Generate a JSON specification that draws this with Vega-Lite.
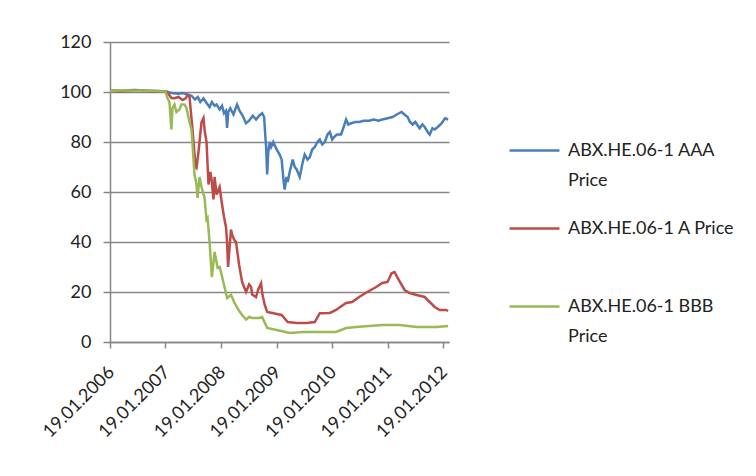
{
  "$schema": "https://vega.github.io/schema/vega-lite/v6.json",
  "width": 339,
  "height": 300,
  "autosize": {"type": "none"},
  "padding": {"left": 110, "top": 42, "right": 307, "bottom": 134},
  "background": "white",
  "config": {"font": "Lato", "view": {"stroke": null}},
  "data": {"values": [
    {"date": "2006-01-19", "series": "ABX.HE.06-1 AAA Price", "price": 100.5},
    {"date": "2006-04-01", "series": "ABX.HE.06-1 AAA Price", "price": 100.6},
    {"date": "2006-07-01", "series": "ABX.HE.06-1 AAA Price", "price": 100.8},
    {"date": "2006-10-01", "series": "ABX.HE.06-1 AAA Price", "price": 100.5},
    {"date": "2007-01-19", "series": "ABX.HE.06-1 AAA Price", "price": 100.3},
    {"date": "2007-02-14", "series": "ABX.HE.06-1 AAA Price", "price": 99.8},
    {"date": "2007-03-10", "series": "ABX.HE.06-1 AAA Price", "price": 99.5},
    {"date": "2007-04-15", "series": "ABX.HE.06-1 AAA Price", "price": 99.3},
    {"date": "2007-05-11", "series": "ABX.HE.06-1 AAA Price", "price": 99.6},
    {"date": "2007-06-13", "series": "ABX.HE.06-1 AAA Price", "price": 99.0},
    {"date": "2007-07-09", "series": "ABX.HE.06-1 AAA Price", "price": 98.5},
    {"date": "2007-08-01", "series": "ABX.HE.06-1 AAA Price", "price": 97.0},
    {"date": "2007-08-20", "series": "ABX.HE.06-1 AAA Price", "price": 98.0},
    {"date": "2007-09-05", "series": "ABX.HE.06-1 AAA Price", "price": 96.0},
    {"date": "2007-09-26", "series": "ABX.HE.06-1 AAA Price", "price": 97.5},
    {"date": "2007-10-16", "series": "ABX.HE.06-1 AAA Price", "price": 95.6},
    {"date": "2007-11-05", "series": "ABX.HE.06-1 AAA Price", "price": 94.0},
    {"date": "2007-11-20", "series": "ABX.HE.06-1 AAA Price", "price": 96.0},
    {"date": "2007-12-08", "series": "ABX.HE.06-1 AAA Price", "price": 94.5},
    {"date": "2007-12-21", "series": "ABX.HE.06-1 AAA Price", "price": 95.0},
    {"date": "2008-01-10", "series": "ABX.HE.06-1 AAA Price", "price": 93.0},
    {"date": "2008-01-26", "series": "ABX.HE.06-1 AAA Price", "price": 94.5},
    {"date": "2008-02-08", "series": "ABX.HE.06-1 AAA Price", "price": 91.5},
    {"date": "2008-02-21", "series": "ABX.HE.06-1 AAA Price", "price": 92.5},
    {"date": "2008-02-28", "series": "ABX.HE.06-1 AAA Price", "price": 85.6},
    {"date": "2008-03-07", "series": "ABX.HE.06-1 AAA Price", "price": 92.0},
    {"date": "2008-03-20", "series": "ABX.HE.06-1 AAA Price", "price": 93.5},
    {"date": "2008-04-10", "series": "ABX.HE.06-1 AAA Price", "price": 91.0},
    {"date": "2008-05-04", "series": "ABX.HE.06-1 AAA Price", "price": 95.0},
    {"date": "2008-05-20", "series": "ABX.HE.06-1 AAA Price", "price": 92.5},
    {"date": "2008-06-10", "series": "ABX.HE.06-1 AAA Price", "price": 90.5},
    {"date": "2008-07-02", "series": "ABX.HE.06-1 AAA Price", "price": 87.5},
    {"date": "2008-07-22", "series": "ABX.HE.06-1 AAA Price", "price": 88.5},
    {"date": "2008-08-15", "series": "ABX.HE.06-1 AAA Price", "price": 90.5},
    {"date": "2008-09-06", "series": "ABX.HE.06-1 AAA Price", "price": 89.0},
    {"date": "2008-09-26", "series": "ABX.HE.06-1 AAA Price", "price": 90.5},
    {"date": "2008-10-16", "series": "ABX.HE.06-1 AAA Price", "price": 91.5},
    {"date": "2008-10-29", "series": "ABX.HE.06-1 AAA Price", "price": 90.0},
    {"date": "2008-11-05", "series": "ABX.HE.06-1 AAA Price", "price": 83},
    {"date": "2008-11-11", "series": "ABX.HE.06-1 AAA Price", "price": 78},
    {"date": "2008-11-18", "series": "ABX.HE.06-1 AAA Price", "price": 67},
    {"date": "2008-11-25", "series": "ABX.HE.06-1 AAA Price", "price": 76},
    {"date": "2008-12-05", "series": "ABX.HE.06-1 AAA Price", "price": 80},
    {"date": "2008-12-14", "series": "ABX.HE.06-1 AAA Price", "price": 78},
    {"date": "2008-12-28", "series": "ABX.HE.06-1 AAA Price", "price": 80},
    {"date": "2009-01-19", "series": "ABX.HE.06-1 AAA Price", "price": 77},
    {"date": "2009-02-08", "series": "ABX.HE.06-1 AAA Price", "price": 75},
    {"date": "2009-02-21", "series": "ABX.HE.06-1 AAA Price", "price": 73},
    {"date": "2009-03-05", "series": "ABX.HE.06-1 AAA Price", "price": 65},
    {"date": "2009-03-13", "series": "ABX.HE.06-1 AAA Price", "price": 61},
    {"date": "2009-03-25", "series": "ABX.HE.06-1 AAA Price", "price": 66},
    {"date": "2009-04-02", "series": "ABX.HE.06-1 AAA Price", "price": 64},
    {"date": "2009-04-15", "series": "ABX.HE.06-1 AAA Price", "price": 68},
    {"date": "2009-05-05", "series": "ABX.HE.06-1 AAA Price", "price": 73},
    {"date": "2009-05-18", "series": "ABX.HE.06-1 AAA Price", "price": 70},
    {"date": "2009-05-31", "series": "ABX.HE.06-1 AAA Price", "price": 69},
    {"date": "2009-06-20", "series": "ABX.HE.06-1 AAA Price", "price": 66},
    {"date": "2009-07-10", "series": "ABX.HE.06-1 AAA Price", "price": 72},
    {"date": "2009-07-23", "series": "ABX.HE.06-1 AAA Price", "price": 75},
    {"date": "2009-08-10", "series": "ABX.HE.06-1 AAA Price", "price": 73},
    {"date": "2009-08-25", "series": "ABX.HE.06-1 AAA Price", "price": 74},
    {"date": "2009-09-10", "series": "ABX.HE.06-1 AAA Price", "price": 77},
    {"date": "2009-09-27", "series": "ABX.HE.06-1 AAA Price", "price": 78},
    {"date": "2009-10-15", "series": "ABX.HE.06-1 AAA Price", "price": 80},
    {"date": "2009-10-30", "series": "ABX.HE.06-1 AAA Price", "price": 81},
    {"date": "2009-11-15", "series": "ABX.HE.06-1 AAA Price", "price": 79},
    {"date": "2009-12-02", "series": "ABX.HE.06-1 AAA Price", "price": 80},
    {"date": "2009-12-20", "series": "ABX.HE.06-1 AAA Price", "price": 83},
    {"date": "2010-01-04", "series": "ABX.HE.06-1 AAA Price", "price": 84},
    {"date": "2010-01-20", "series": "ABX.HE.06-1 AAA Price", "price": 81},
    {"date": "2010-02-01", "series": "ABX.HE.06-1 AAA Price", "price": 82},
    {"date": "2010-02-20", "series": "ABX.HE.06-1 AAA Price", "price": 83},
    {"date": "2010-03-19", "series": "ABX.HE.06-1 AAA Price", "price": 83},
    {"date": "2010-04-05", "series": "ABX.HE.06-1 AAA Price", "price": 86},
    {"date": "2010-04-21", "series": "ABX.HE.06-1 AAA Price", "price": 89},
    {"date": "2010-05-05", "series": "ABX.HE.06-1 AAA Price", "price": 87},
    {"date": "2010-05-24", "series": "ABX.HE.06-1 AAA Price", "price": 87.5},
    {"date": "2010-06-20", "series": "ABX.HE.06-1 AAA Price", "price": 88},
    {"date": "2010-07-16", "series": "ABX.HE.06-1 AAA Price", "price": 88},
    {"date": "2010-08-15", "series": "ABX.HE.06-1 AAA Price", "price": 88.5},
    {"date": "2010-09-20", "series": "ABX.HE.06-1 AAA Price", "price": 88.5},
    {"date": "2010-10-20", "series": "ABX.HE.06-1 AAA Price", "price": 89},
    {"date": "2010-11-20", "series": "ABX.HE.06-1 AAA Price", "price": 88.5},
    {"date": "2010-12-15", "series": "ABX.HE.06-1 AAA Price", "price": 89},
    {"date": "2011-01-19", "series": "ABX.HE.06-1 AAA Price", "price": 89.5},
    {"date": "2011-02-21", "series": "ABX.HE.06-1 AAA Price", "price": 90},
    {"date": "2011-03-20", "series": "ABX.HE.06-1 AAA Price", "price": 91},
    {"date": "2011-04-21", "series": "ABX.HE.06-1 AAA Price", "price": 92},
    {"date": "2011-05-10", "series": "ABX.HE.06-1 AAA Price", "price": 91},
    {"date": "2011-05-31", "series": "ABX.HE.06-1 AAA Price", "price": 90},
    {"date": "2011-06-15", "series": "ABX.HE.06-1 AAA Price", "price": 88},
    {"date": "2011-07-03", "series": "ABX.HE.06-1 AAA Price", "price": 87},
    {"date": "2011-07-20", "series": "ABX.HE.06-1 AAA Price", "price": 88},
    {"date": "2011-08-18", "series": "ABX.HE.06-1 AAA Price", "price": 85.5},
    {"date": "2011-09-05", "series": "ABX.HE.06-1 AAA Price", "price": 87},
    {"date": "2011-09-20", "series": "ABX.HE.06-1 AAA Price", "price": 86},
    {"date": "2011-10-10", "series": "ABX.HE.06-1 AAA Price", "price": 84},
    {"date": "2011-10-23", "series": "ABX.HE.06-1 AAA Price", "price": 83},
    {"date": "2011-11-10", "series": "ABX.HE.06-1 AAA Price", "price": 85.5},
    {"date": "2011-11-25", "series": "ABX.HE.06-1 AAA Price", "price": 85},
    {"date": "2011-12-15", "series": "ABX.HE.06-1 AAA Price", "price": 86},
    {"date": "2012-01-10", "series": "ABX.HE.06-1 AAA Price", "price": 87.5},
    {"date": "2012-02-01", "series": "ABX.HE.06-1 AAA Price", "price": 89.5},
    {"date": "2012-02-21", "series": "ABX.HE.06-1 AAA Price", "price": 89},

    {"date": "2006-01-19", "series": "ABX.HE.06-1 A Price", "price": 100.5},
    {"date": "2006-04-01", "series": "ABX.HE.06-1 A Price", "price": 100.3},
    {"date": "2006-07-01", "series": "ABX.HE.06-1 A Price", "price": 100.6},
    {"date": "2006-10-01", "series": "ABX.HE.06-1 A Price", "price": 100.4},
    {"date": "2007-01-19", "series": "ABX.HE.06-1 A Price", "price": 100.2},
    {"date": "2007-02-01", "series": "ABX.HE.06-1 A Price", "price": 99.8},
    {"date": "2007-02-27", "series": "ABX.HE.06-1 A Price", "price": 97.6},
    {"date": "2007-03-20", "series": "ABX.HE.06-1 A Price", "price": 97.5},
    {"date": "2007-04-15", "series": "ABX.HE.06-1 A Price", "price": 98},
    {"date": "2007-05-11", "series": "ABX.HE.06-1 A Price", "price": 96.8},
    {"date": "2007-06-01", "series": "ABX.HE.06-1 A Price", "price": 97.5},
    {"date": "2007-06-13", "series": "ABX.HE.06-1 A Price", "price": 98.8},
    {"date": "2007-06-26", "series": "ABX.HE.06-1 A Price", "price": 98},
    {"date": "2007-07-16", "series": "ABX.HE.06-1 A Price", "price": 85},
    {"date": "2007-08-05", "series": "ABX.HE.06-1 A Price", "price": 70},
    {"date": "2007-08-11", "series": "ABX.HE.06-1 A Price", "price": 69.6},
    {"date": "2007-08-24", "series": "ABX.HE.06-1 A Price", "price": 76},
    {"date": "2007-09-13", "series": "ABX.HE.06-1 A Price", "price": 88},
    {"date": "2007-09-26", "series": "ABX.HE.06-1 A Price", "price": 89.6},
    {"date": "2007-10-05", "series": "ABX.HE.06-1 A Price", "price": 84},
    {"date": "2007-10-16", "series": "ABX.HE.06-1 A Price", "price": 80},
    {"date": "2007-10-29", "series": "ABX.HE.06-1 A Price", "price": 63},
    {"date": "2007-11-10", "series": "ABX.HE.06-1 A Price", "price": 68},
    {"date": "2007-11-18", "series": "ABX.HE.06-1 A Price", "price": 65},
    {"date": "2007-12-01", "series": "ABX.HE.06-1 A Price", "price": 57},
    {"date": "2007-12-08", "series": "ABX.HE.06-1 A Price", "price": 66},
    {"date": "2007-12-21", "series": "ABX.HE.06-1 A Price", "price": 59},
    {"date": "2008-01-10", "series": "ABX.HE.06-1 A Price", "price": 62},
    {"date": "2008-01-26", "series": "ABX.HE.06-1 A Price", "price": 55},
    {"date": "2008-02-08", "series": "ABX.HE.06-1 A Price", "price": 50},
    {"date": "2008-02-21", "series": "ABX.HE.06-1 A Price", "price": 46},
    {"date": "2008-02-28", "series": "ABX.HE.06-1 A Price", "price": 40},
    {"date": "2008-03-06", "series": "ABX.HE.06-1 A Price", "price": 30},
    {"date": "2008-03-12", "series": "ABX.HE.06-1 A Price", "price": 35},
    {"date": "2008-03-25", "series": "ABX.HE.06-1 A Price", "price": 45},
    {"date": "2008-04-01", "series": "ABX.HE.06-1 A Price", "price": 43},
    {"date": "2008-04-14", "series": "ABX.HE.06-1 A Price", "price": 41},
    {"date": "2008-04-27", "series": "ABX.HE.06-1 A Price", "price": 40},
    {"date": "2008-05-17", "series": "ABX.HE.06-1 A Price", "price": 31},
    {"date": "2008-06-06", "series": "ABX.HE.06-1 A Price", "price": 24},
    {"date": "2008-06-19", "series": "ABX.HE.06-1 A Price", "price": 22},
    {"date": "2008-07-02", "series": "ABX.HE.06-1 A Price", "price": 20},
    {"date": "2008-07-22", "series": "ABX.HE.06-1 A Price", "price": 23},
    {"date": "2008-08-04", "series": "ABX.HE.06-1 A Price", "price": 22},
    {"date": "2008-08-11", "series": "ABX.HE.06-1 A Price", "price": 19},
    {"date": "2008-09-06", "series": "ABX.HE.06-1 A Price", "price": 18},
    {"date": "2008-09-20", "series": "ABX.HE.06-1 A Price", "price": 21},
    {"date": "2008-10-09", "series": "ABX.HE.06-1 A Price", "price": 23.5},
    {"date": "2008-10-16", "series": "ABX.HE.06-1 A Price", "price": 19.6},
    {"date": "2008-11-01", "series": "ABX.HE.06-1 A Price", "price": 15},
    {"date": "2008-11-18", "series": "ABX.HE.06-1 A Price", "price": 12},
    {"date": "2008-12-21", "series": "ABX.HE.06-1 A Price", "price": 11.6},
    {"date": "2009-02-21", "series": "ABX.HE.06-1 A Price", "price": 10.8},
    {"date": "2009-04-02", "series": "ABX.HE.06-1 A Price", "price": 8},
    {"date": "2009-05-31", "series": "ABX.HE.06-1 A Price", "price": 7.6},
    {"date": "2009-08-05", "series": "ABX.HE.06-1 A Price", "price": 7.6},
    {"date": "2009-09-27", "series": "ABX.HE.06-1 A Price", "price": 8},
    {"date": "2009-10-30", "series": "ABX.HE.06-1 A Price", "price": 11.5},
    {"date": "2010-01-04", "series": "ABX.HE.06-1 A Price", "price": 11.6},
    {"date": "2010-02-14", "series": "ABX.HE.06-1 A Price", "price": 12.8},
    {"date": "2010-04-21", "series": "ABX.HE.06-1 A Price", "price": 15.6},
    {"date": "2010-05-31", "series": "ABX.HE.06-1 A Price", "price": 16},
    {"date": "2010-07-16", "series": "ABX.HE.06-1 A Price", "price": 18},
    {"date": "2010-09-07", "series": "ABX.HE.06-1 A Price", "price": 20},
    {"date": "2010-11-05", "series": "ABX.HE.06-1 A Price", "price": 22},
    {"date": "2010-12-15", "series": "ABX.HE.06-1 A Price", "price": 23.6},
    {"date": "2011-01-19", "series": "ABX.HE.06-1 A Price", "price": 24},
    {"date": "2011-02-14", "series": "ABX.HE.06-1 A Price", "price": 27.5},
    {"date": "2011-03-06", "series": "ABX.HE.06-1 A Price", "price": 28},
    {"date": "2011-03-26", "series": "ABX.HE.06-1 A Price", "price": 25.6},
    {"date": "2011-05-11", "series": "ABX.HE.06-1 A Price", "price": 20.8},
    {"date": "2011-06-13", "series": "ABX.HE.06-1 A Price", "price": 19.6},
    {"date": "2011-07-29", "series": "ABX.HE.06-1 A Price", "price": 18.8},
    {"date": "2011-09-20", "series": "ABX.HE.06-1 A Price", "price": 18},
    {"date": "2011-10-23", "series": "ABX.HE.06-1 A Price", "price": 16},
    {"date": "2011-11-25", "series": "ABX.HE.06-1 A Price", "price": 14},
    {"date": "2011-12-28", "series": "ABX.HE.06-1 A Price", "price": 12.8},
    {"date": "2012-02-08", "series": "ABX.HE.06-1 A Price", "price": 12.8},
    {"date": "2012-02-21", "series": "ABX.HE.06-1 A Price", "price": 12.4},

    {"date": "2006-01-19", "series": "ABX.HE.06-1 BBB Price", "price": 100.4},
    {"date": "2006-04-01", "series": "ABX.HE.06-1 BBB Price", "price": 100.7},
    {"date": "2006-07-01", "series": "ABX.HE.06-1 BBB Price", "price": 100.5},
    {"date": "2006-10-01", "series": "ABX.HE.06-1 BBB Price", "price": 100.6},
    {"date": "2007-01-19", "series": "ABX.HE.06-1 BBB Price", "price": 100.2},
    {"date": "2007-02-01", "series": "ABX.HE.06-1 BBB Price", "price": 97.6},
    {"date": "2007-02-14", "series": "ABX.HE.06-1 BBB Price", "price": 96},
    {"date": "2007-02-27", "series": "ABX.HE.06-1 BBB Price", "price": 85},
    {"date": "2007-03-06", "series": "ABX.HE.06-1 BBB Price", "price": 93.6},
    {"date": "2007-03-19", "series": "ABX.HE.06-1 BBB Price", "price": 95},
    {"date": "2007-04-01", "series": "ABX.HE.06-1 BBB Price", "price": 92},
    {"date": "2007-04-21", "series": "ABX.HE.06-1 BBB Price", "price": 93},
    {"date": "2007-05-04", "series": "ABX.HE.06-1 BBB Price", "price": 95},
    {"date": "2007-05-24", "series": "ABX.HE.06-1 BBB Price", "price": 95},
    {"date": "2007-06-06", "series": "ABX.HE.06-1 BBB Price", "price": 93.6},
    {"date": "2007-06-26", "series": "ABX.HE.06-1 BBB Price", "price": 88},
    {"date": "2007-07-09", "series": "ABX.HE.06-1 BBB Price", "price": 85},
    {"date": "2007-07-16", "series": "ABX.HE.06-1 BBB Price", "price": 79},
    {"date": "2007-07-29", "series": "ABX.HE.06-1 BBB Price", "price": 67},
    {"date": "2007-08-11", "series": "ABX.HE.06-1 BBB Price", "price": 63},
    {"date": "2007-08-18", "series": "ABX.HE.06-1 BBB Price", "price": 57.6},
    {"date": "2007-08-31", "series": "ABX.HE.06-1 BBB Price", "price": 66},
    {"date": "2007-09-13", "series": "ABX.HE.06-1 BBB Price", "price": 62},
    {"date": "2007-10-03", "series": "ABX.HE.06-1 BBB Price", "price": 57.6},
    {"date": "2007-10-16", "series": "ABX.HE.06-1 BBB Price", "price": 49},
    {"date": "2007-10-23", "series": "ABX.HE.06-1 BBB Price", "price": 49.6},
    {"date": "2007-11-05", "series": "ABX.HE.06-1 BBB Price", "price": 40},
    {"date": "2007-11-20", "series": "ABX.HE.06-1 BBB Price", "price": 26},
    {"date": "2007-12-08", "series": "ABX.HE.06-1 BBB Price", "price": 36},
    {"date": "2007-12-28", "series": "ABX.HE.06-1 BBB Price", "price": 29.6},
    {"date": "2008-01-10", "series": "ABX.HE.06-1 BBB Price", "price": 30},
    {"date": "2008-01-19", "series": "ABX.HE.06-1 BBB Price", "price": 28},
    {"date": "2008-02-08", "series": "ABX.HE.06-1 BBB Price", "price": 22.8},
    {"date": "2008-02-21", "series": "ABX.HE.06-1 BBB Price", "price": 19.6},
    {"date": "2008-02-28", "series": "ABX.HE.06-1 BBB Price", "price": 17.6},
    {"date": "2008-03-25", "series": "ABX.HE.06-1 BBB Price", "price": 18.8},
    {"date": "2008-04-01", "series": "ABX.HE.06-1 BBB Price", "price": 18},
    {"date": "2008-04-14", "series": "ABX.HE.06-1 BBB Price", "price": 16},
    {"date": "2008-05-17", "series": "ABX.HE.06-1 BBB Price", "price": 12.5},
    {"date": "2008-06-06", "series": "ABX.HE.06-1 BBB Price", "price": 10.8},
    {"date": "2008-07-02", "series": "ABX.HE.06-1 BBB Price", "price": 9},
    {"date": "2008-07-22", "series": "ABX.HE.06-1 BBB Price", "price": 10},
    {"date": "2008-08-11", "series": "ABX.HE.06-1 BBB Price", "price": 9.6},
    {"date": "2008-09-06", "series": "ABX.HE.06-1 BBB Price", "price": 9.6},
    {"date": "2008-09-26", "series": "ABX.HE.06-1 BBB Price", "price": 9.6},
    {"date": "2008-10-16", "series": "ABX.HE.06-1 BBB Price", "price": 10},
    {"date": "2008-11-18", "series": "ABX.HE.06-1 BBB Price", "price": 5.6},
    {"date": "2009-01-19", "series": "ABX.HE.06-1 BBB Price", "price": 4.8},
    {"date": "2009-04-15", "series": "ABX.HE.06-1 BBB Price", "price": 3.6},
    {"date": "2009-07-10", "series": "ABX.HE.06-1 BBB Price", "price": 4},
    {"date": "2009-10-10", "series": "ABX.HE.06-1 BBB Price", "price": 4},
    {"date": "2010-02-14", "series": "ABX.HE.06-1 BBB Price", "price": 4},
    {"date": "2010-04-21", "series": "ABX.HE.06-1 BBB Price", "price": 5.6},
    {"date": "2010-06-26", "series": "ABX.HE.06-1 BBB Price", "price": 6},
    {"date": "2010-09-20", "series": "ABX.HE.06-1 BBB Price", "price": 6.4},
    {"date": "2010-12-15", "series": "ABX.HE.06-1 BBB Price", "price": 6.8},
    {"date": "2011-04-08", "series": "ABX.HE.06-1 BBB Price", "price": 6.8},
    {"date": "2011-07-29", "series": "ABX.HE.06-1 BBB Price", "price": 6},
    {"date": "2011-12-08", "series": "ABX.HE.06-1 BBB Price", "price": 6},
    {"date": "2012-02-21", "series": "ABX.HE.06-1 BBB Price", "price": 6.4}
  ]},
  "mark": {"type": "line", "strokeWidth": 2.5},
  "encoding": {
    "x": {
      "field": "date", "type": "temporal",
      "scale": {"type": "utc", "domain": [{"year": 2006, "month": 1, "date": 19, "utc": true}, {"year": 2012, "month": 2, "date": 27, "utc": true}]},
      "axis": {
        "title": null, "grid": false,
        "values": [
          {"year": 2006, "month": 1, "date": 19, "utc": true},
          {"year": 2007, "month": 1, "date": 19, "utc": true},
          {"year": 2008, "month": 1, "date": 19, "utc": true},
          {"year": 2009, "month": 1, "date": 19, "utc": true},
          {"year": 2010, "month": 1, "date": 19, "utc": true},
          {"year": 2011, "month": 1, "date": 19, "utc": true},
          {"year": 2012, "month": 1, "date": 19, "utc": true}
        ],
        "labelExpr": "utcFormat(datum.value, '%d.%m.%Y')",
        "labelAngle": -45, "labelAlign": "right", "labelBaseline": "top",
        "labelFontSize": 18, "labelColor": "#222222", "labelPadding": 15, "labelOffset": -5,
        "labelOverlap": false, "labelFlush": false, "labelBound": false,
        "tickSize": 6, "tickColor": "#868686", "tickWidth": 1.5,
        "domainColor": "#868686", "domainWidth": 1.5
      }
    },
    "y": {
      "field": "price", "type": "quantitative",
      "scale": {"domain": [0, 120]},
      "axis": {
        "title": null, "values": [0, 20, 40, 60, 80, 100, 120],
        "grid": true, "gridColor": "#868686", "gridWidth": 1.5,
        "domainColor": "#868686", "domainWidth": 1.5,
        "tickSize": 7, "tickColor": "#868686", "tickWidth": 1.5,
        "labelFontSize": 18, "labelColor": "#222222", "labelPadding": 12
      }
    },
    "color": {
      "field": "series", "type": "nominal",
      "scale": {
        "domain": ["ABX.HE.06-1 AAA Price", "ABX.HE.06-1 A Price", "ABX.HE.06-1 BBB Price"],
        "range": ["#4A7EBB", "#BE4B48", "#98B954"]
      },
      "legend": {
        "title": null, "orient": "none", "legendX": 398, "legendY": 82,
        "padding": 0, "symbolType": "stroke", "symbolSize": 2500, "symbolStrokeWidth": 2.5,
        "labelFontSize": 18, "labelColor": "#222222", "labelOffset": 7, "labelLimit": 300,
        "rowPadding": 12, "gridAlign": "all",
        "labelExpr": "datum.label == 'ABX.HE.06-1 A Price' ? datum.label : [replace(datum.label, ' Price', ''), 'Price']",
        "encode": {"labels": {"update": {"lineHeight": {"value": 30}}}}
      }
    }
  }
}
